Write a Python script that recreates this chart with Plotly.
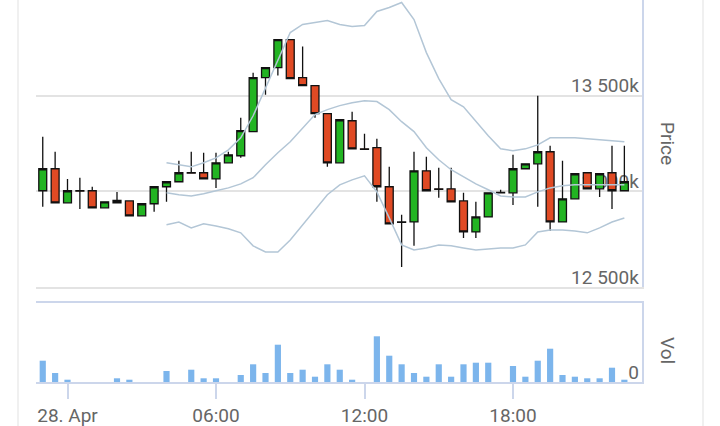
import pandas as pd
import plotly.graph_objects as go
from plotly.subplots import make_subplots

# ---- data ----
times = pd.date_range("2024-04-27 23:00", periods=48, freq="30min")

opens = [13003, 13118, 12940, 13003, 13003, 12914, 12940, 12950, 12872, 12935,
         13024, 13050, 13097, 13097, 13065, 13149, 13186, 13312, 13594, 13647,
         13793, 13594, 13552, 13406, 13149, 13369, 13222, 13228, 13024, 12840,
         12840, 13107, 13013, 13013, 12950, 12788, 12866, 12992, 12992, 13118,
         13144, 13207, 12840, 12961, 13097, 13013, 13097, 13003]
highs = [13285, 13207, 13065, 13071, 13024, 12945, 12997, 12950, 12935, 13024,
         13050, 13160, 13207, 13202, 13202, 13207, 13385, 13620, 13647, 13793,
         13793, 13757, 13552, 13406, 13374, 13416, 13301, 13275, 13128, 12877,
         13207, 13181, 13123, 13123, 12992, 12945, 12992, 13008, 13191, 13144,
         13500, 13238, 13160, 13092, 13097, 13092, 13238, 13238]
lows = [12919, 12940, 12940, 12908, 12914, 12914, 12940, 12872, 12872, 12893,
        12945, 13050, 13097, 13065, 13018, 13149, 13175, 13312, 13505, 13605,
        13589, 13552, 13385, 13128, 13149, 13222, 13222, 12945, 12830, 12605,
        12715, 13003, 12966, 12945, 12756, 12756, 12866, 12992, 12929, 13118,
        12919, 12793, 12840, 12961, 13013, 12971, 12908, 13003]
closes = [13118, 12940, 13003, 13001, 12914, 12945, 12952, 12872, 12935, 13024,
          13050, 13097, 13095, 13065, 13149, 13191, 13317, 13594, 13647, 13793,
          13589, 13552, 13406, 13149, 13374, 13222, 13220, 13024, 12830, 12838,
          13107, 13003, 13011, 12945, 12788, 12866, 12992, 12994, 13118, 13144,
          13207, 12840, 12961, 13092, 13013, 13092, 13003, 13050]

bb_upper = [None] * 10 + [
    13149, 13139, 13128, 13149, 13175, 13217, 13280, 13395, 13542, 13688,
    13830, 13872, 13882, 13893, 13872, 13861, 13867, 13940, 13961, 13987,
    13898, 13725, 13589, 13479, 13442, 13364, 13291, 13222, 13212, 13222,
    13243, 13280, 13280, 13280, 13275, 13270, 13264, 13259]
bb_middle = [None] * 10 + [
    12992, 12982, 12976, 12987, 13003, 13018, 13039, 13071, 13139, 13202,
    13259, 13332, 13401, 13427, 13448, 13463, 13474, 13469, 13427, 13364,
    13312, 13228, 13165, 13113, 13076, 13039, 13008, 12976, 12971, 12971,
    12997, 13018, 13029, 13034, 13034, 13034, 13034, 13034]
bb_lower = [None] * 10 + [
    12825, 12840, 12809, 12830, 12819, 12804, 12783, 12715, 12683, 12683,
    12746, 12825, 12903, 12982, 13034, 13060, 13081, 12997, 12861, 12720,
    12694, 12704, 12720, 12715, 12704, 12694, 12699, 12704, 12704, 12720,
    12788, 12798, 12798, 12793, 12783, 12809, 12840, 12861]

volumes = [213, 90, 23, 0, 0, 0, 37, 23, 0, 0,
           110, 0, 123, 37, 37, 0, 70, 177, 90, 373,
           90, 123, 53, 177, 123, 23, 0, 457, 263, 177,
           90, 53, 177, 53, 177, 193, 193, 0, 160, 53,
           213, 333, 70, 53, 37, 37, 143, 23]

price_ticks = [12500, 13000, 13500]
price_tick_text = ["12 500k", "13 000k", "13 500k"]
x_ticks = ["2024-04-28 00:00", "2024-04-28 06:00", "2024-04-28 12:00", "2024-04-28 18:00"]
x_tick_text = ["28. Apr", "06:00", "12:00", "18:00"]

# ---- styles ----
FONT = "Roboto"
FS = 19
TXT = "#666666"
AXIS = "#ccd6eb"
GRID = "#e3e3e3"
BAND = "#b3c6d6"
UP = "#22b422"
DOWN = "#e04a24"

fig = make_subplots(rows=2, cols=1, shared_xaxes=True, vertical_spacing=0,
                    row_heights=[0.5, 0.5])

for band in (bb_upper, bb_middle, bb_lower):
    fig.add_trace(go.Scatter(x=times, y=band, mode="lines",
                             line=dict(color=BAND, width=1.5),
                             hoverinfo="skip", showlegend=False), row=1, col=1)

fig.add_trace(go.Candlestick(
    x=times, open=opens, high=highs, low=lows, close=closes,
    increasing=dict(line=dict(color="#111111", width=1.3), fillcolor=UP),
    decreasing=dict(line=dict(color="#111111", width=1.3), fillcolor=DOWN),
    whiskerwidth=0, showlegend=False, hoverinfo="skip"), row=1, col=1)

fig.add_trace(go.Bar(x=times, y=volumes, marker=dict(color="#7cb5ec", line=dict(width=0)),
                     showlegend=False, hoverinfo="skip"), row=2, col=1)

W, H = 720, 426
L, R, T, B = 36, 78, 0, 44
plot_h = H - T - B  # 382
price_bottom_px = 287
vol_top_px = 303

x_range = ["2024-04-27 22:43:38", "2024-04-28 23:12:44"]

fig.update_layout(
    width=W, height=H,
    margin=dict(l=L, r=R, t=T, b=B),
    paper_bgcolor="white", plot_bgcolor="white",
    font=dict(family=FONT, size=FS, color=TXT),
    boxgap=0.2, boxgroupgap=0.2,
    bargap=0.5,
    hovermode=False,
    xaxis=dict(range=x_range, rangeslider=dict(visible=False),
               showticklabels=False, showgrid=False, ticks="",
               showline=True, linecolor=GRID, linewidth=1.5,
               domain=[0, 1]),
    xaxis2=dict(range=x_range, showgrid=False,
                tickvals=x_ticks, ticktext=x_tick_text,
                ticks="outside", ticklen=15, tickcolor=AXIS, tickwidth=1.5,
                showline=True, linecolor=AXIS, linewidth=1.5, mirror=True,
                tickfont=dict(family=FONT, size=FS, color=TXT)),
    yaxis=dict(domain=[(plot_h - price_bottom_px) / plot_h, 1],
               range=[12500, 14000], side="right",
               tickvals=price_ticks, ticktext=price_tick_text,
               ticklabelposition="inside", ticklabeloverflow="allow",
               ticklabelshift=-10, ticklabelstandoff=4, ticks="",
               showgrid=True, gridcolor=GRID, gridwidth=1.5,
               showline=True, linecolor=AXIS, linewidth=2,
               layer="below traces", zeroline=False,
               tickfont=dict(family=FONT, size=FS, color=TXT)),
    yaxis2=dict(domain=[0, (plot_h - vol_top_px) / plot_h],
                range=[0, 790], side="right",
                tickvals=[0], ticktext=["0"],
                ticklabelposition="inside", ticklabeloverflow="allow",
                ticklabelshift=-10, ticklabelstandoff=4, ticks="",
                showgrid=False, zeroline=False,
                showline=True, linecolor=AXIS, linewidth=1.5,
                tickfont=dict(family=FONT, size=FS, color=TXT)),
)

plot_w = W - L - R

def px_x(p):
    return (p - L) / plot_w

def px_y(p):
    return (plot_h - p) / plot_h

fig.add_annotation(text="Price", xref="paper", yref="paper",
                   x=px_x(668), y=px_y(143), xanchor="center", yanchor="middle",
                   textangle=90, showarrow=False,
                   font=dict(family=FONT, size=FS, color=TXT))
fig.add_annotation(text="Vol", xref="paper", yref="paper",
                   x=px_x(668), y=px_y(350), xanchor="center", yanchor="middle",
                   textangle=90, showarrow=False,
                   font=dict(family=FONT, size=FS, color=TXT))

for fx in (18, 703):
    fig.add_shape(type="line", xref="paper", yref="paper",
                  x0=px_x(fx), x1=px_x(fx), y0=px_y(H), y1=1,
                  line=dict(color="#ebebeb", width=1.5))

fig.write_html("out.html", config={"displayModeBar": False},
               post_script="document.body.style.margin='0';document.body.style.overflow='hidden';")
